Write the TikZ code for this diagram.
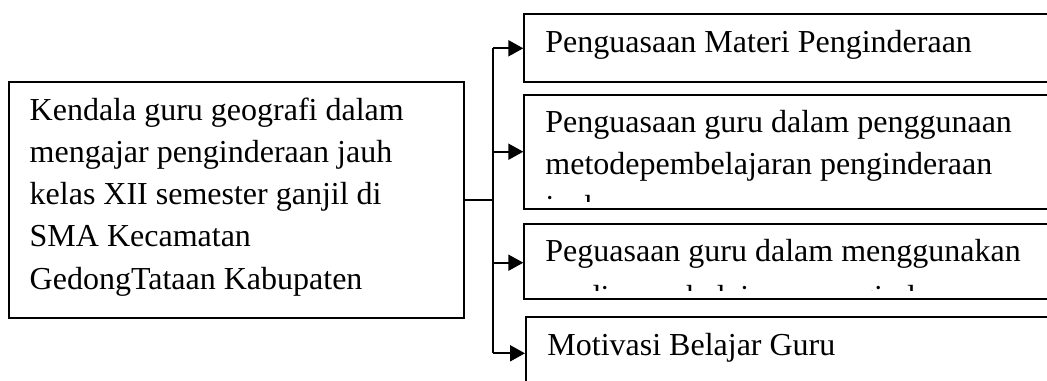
\documentclass[tikz,border=0pt]{standalone}
\usepackage{fontspec}
\setmainfont{Liberation Serif}
\usetikzlibrary{arrows.meta}
\begin{document}
\begin{tikzpicture}[x=0.5pt,y=-0.5pt,
  box/.style={draw=black, line width=1pt, fill=none, inner sep=0pt, anchor=north west},
  txt/.style={inner sep=0pt, anchor=base west, align=left, font=\fontsize{16}{21.15}\selectfont},
  link/.style={line width=1pt},
  arr/.style={line width=1pt, -{Triangle[length=7.5pt,width=8pt]}}]
\useasboundingbox (0,0) rectangle (1047,380);
\clip (0,0) rectangle (1047,380);
% boxes
\node[box, minimum width=227.5pt, minimum height=117.85pt] (main) at (8.3,81) {};
\node[box, minimum width=268.35pt, minimum height=33.7pt] (b1) at (523.3,13.3) {};
\node[box, minimum width=268.35pt, minimum height=57pt] (b2) at (523.3,94.3) {};
\node[box, minimum width=268.35pt, minimum height=37.8pt] (b3) at (523.3,222.7) {};
\node[box, minimum width=267.5pt, minimum height=37pt] (b4) at (525,316) {};
% texts (base anchor = baseline of the last line)
\node[txt] (tmain) at (29.3,289.2) {Kendala guru geografi dalam\\mengajar penginderaan jauh\\kelas XII semester ganjil di\\SMA Kecamatan\\GedongTataan Kabupaten};
\node[txt] (t1) at (545,52.7) {Penguasaan Materi Penginderaan};
\begin{scope}
\clip (b2.north west) rectangle ([yshift=4.2pt]b2.south east);
\node[txt] (t2) at (545,217) {Penguasaan guru dalam penggunaan\\metodepembelajaran penginderaan\\jauh};
\end{scope}
\begin{scope}
\clip (b3.north west) rectangle ([yshift=4.9pt]b3.south east);
\node[txt] (t3) at (545,261.7) {Peguasaan guru dalam menggunakan};
\node[txt] (t3b) at (545,307) {media pembelajaran penginderaan};
\end{scope}
\node[txt] (t4) at (547,355) {Motivasi Belajar Guru};
% connectors
\coordinate (j) at (493.3,200);
\coordinate (j1) at (493.3,48.3);
\coordinate (j2) at (493.3,151.7);
\coordinate (j3) at (493.3,262.7);
\coordinate (j4) at (493.3,353.3);
\draw[link] (main.east |- j) -- (j);
\draw[link] (j1) -- (j4);
\draw[arr] (j1) -- (j1 -| b1.west);
\draw[arr] (j2) -- (j2 -| b2.west);
\draw[arr] (j3) -- (j3 -| b3.west);
\draw[arr] (j4) -- (j4 -| b4.west);
\end{tikzpicture}
\end{document}
